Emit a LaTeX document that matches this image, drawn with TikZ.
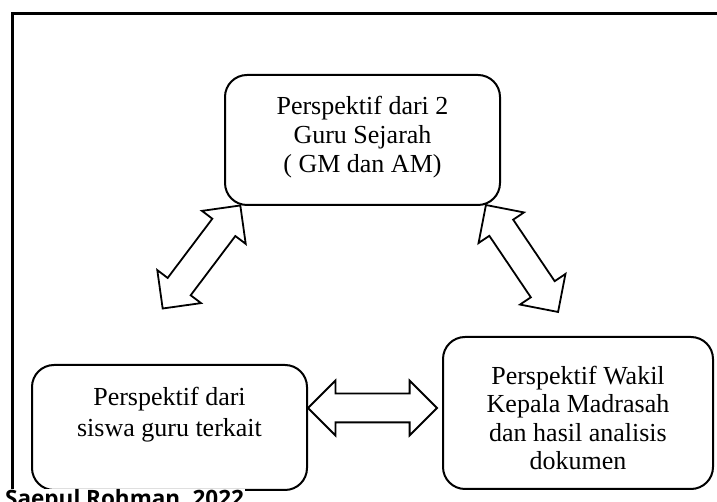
\documentclass[tikz,border=0pt]{standalone}
\usepackage{fontspec}
\setmainfont{Liberation Serif}
\newfontfamily\sumberfont{Open Sans}
\usetikzlibrary{shapes.arrows}

\begin{document}
\begin{tikzpicture}[x=1pt, y=1pt,
    kotak/.style={draw, line width=2pt, rounded corners=22pt, inner sep=0pt},
    teks/.style={align=center, inner sep=0pt, anchor=base, font=\fontsize{26}{29}\selectfont},
    panah/.style={draw, line width=1.8pt, double arrow, double arrow head extend=13pt,
        text height=13.5pt, text depth=13.5pt, minimum height=129pt, inner sep=0pt}]
    \clip (0,0) rectangle (717,502);
    % Bingkai
    \draw[line width=3pt] (12,488) rectangle (760,-30);

    % Kotak atas
    \node (A) at (362.5,362) [kotak, minimum width=275pt, minimum height=130pt] {};
    \node (At) at (362.5,329) [teks] {Perspektif dari 2\\Guru Sejarah\\( GM dan AM)};

    % Kotak bawah
    \node (B) at (169.5,74.5) [kotak, minimum width=275pt, minimum height=125pt] {};
    \node (Bt) at (169.5,65) [teks, font=\fontsize{26}{31}\selectfont] {Perspektif dari\\siswa guru terkait};
    \node (C) at (578,89) [kotak, minimum width=270pt, minimum height=152pt] {};
    \node (Ct) at (578,32) [teks, font=\fontsize{26}{28.5}\selectfont] {Perspektif Wakil\\Kepala Madrasah\\dan hasil analisis\\dokumen};

    % Panah
    \node (P1) at (201.5,245) [panah, rotate=53] {};
    \node (P2) at (522,243.5) [panah, rotate=124] {};
    \node (P3) at (372.5,94) [panah] {};

    % Sumber
    \node (S) at (4,-5) [anchor=base west, fill=white, inner sep=1pt,
        font=\sumberfont\bfseries\fontsize{22.5}{26}\selectfont] {Saepul Rohman, 2022};
\end{tikzpicture}
\end{document}
